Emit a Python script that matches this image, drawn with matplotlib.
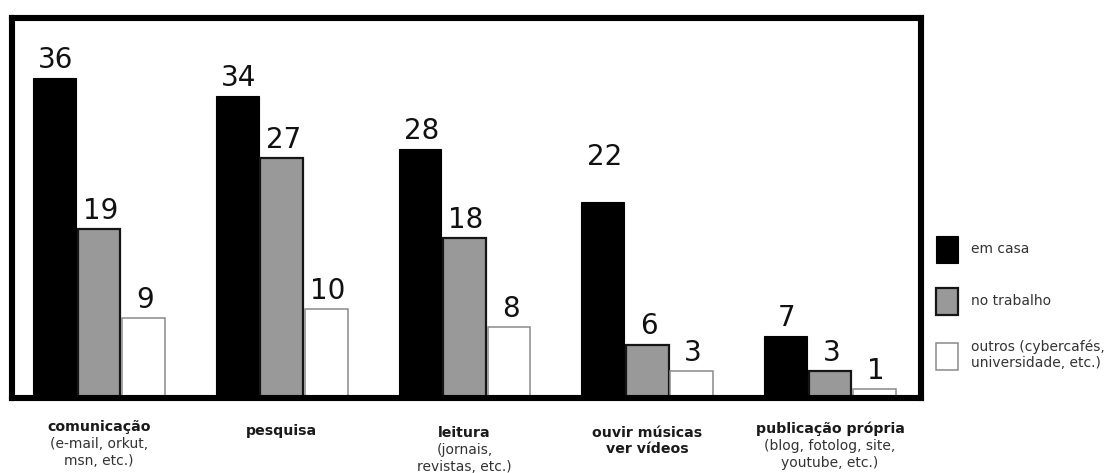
import matplotlib
matplotlib.use("Agg")
import matplotlib.pyplot as plt
import numpy as np

# Uso da internet por local de acesso (%)
categories = ["comunicação", "pesquisa", "leitura", "ouvir músicas\nver vídeos", "publicação própria"]
subtitles = ["(e-mail, orkut,\nmsn, etc.)", "", "(jornais,\nrevistas, etc.)", "", "(blog, fotolog, site,\nyoutube, etc.)"]
series_names = ["em casa", "no trabalho", "outros (cybercafés,\nuniversidade, etc.)"]
em_casa = [36, 34, 28, 22, 7]
no_trabalho = [19, 27, 18, 6, 3]
outros = [9, 10, 8, 3, 1]

series = [em_casa, no_trabalho, outros]
styles = [
    dict(facecolor="black", edgecolor="black", linewidth=0.8),
    dict(facecolor="#999999", edgecolor="#151515", linewidth=1.6),
    dict(facecolor="white", edgecolor="#8a8a8a", linewidth=1.1),
]

fig = plt.figure(figsize=(11.09, 4.73), dpi=100)
ax = fig.add_axes([0.0104, 0.1586, 0.8205, 0.8033])

x = np.arange(len(categories))
width = 0.2435
bars = []
for k, (vals, st) in enumerate(zip(series, styles)):
    b = ax.bar(x + (k - 1) * width, vals, width * 0.96, label=series_names[k],
               zorder=2, **st)
    bars.append(b)
    for rect, v in zip(b, vals):
        # the "22" label sits higher above its bar
        lift = 23 if (k == 0 and v == 22) else 3
        ax.annotate(str(v), (rect.get_x() + rect.get_width() / 2, v),
                    xytext=(1, lift), textcoords="offset points",
                    ha="center", va="bottom", fontsize=20, color="#111111")

ax.set_xlim(-0.479, 4.50)
ax.set_ylim(0, 42.75)
ax.set_xticks([])
ax.set_yticks([])
for s in ax.spines.values():
    s.set_linewidth(4.4)
    s.set_color("black")
    s.set_zorder(5)

# category captions below the frame
drops = [22, 26, 28, 28, 24]
for i, (cat, sub) in enumerate(zip(categories, subtitles)):
    ax.annotate(cat, (x[i], 0), xytext=(0, -drops[i] * 0.72), textcoords="offset points",
                ha="center", va="top", fontsize=10.2, fontweight="bold",
                color="#1a1a1a", linespacing=1.15)
    if sub:
        ax.annotate(sub, (x[i], 0), xytext=(0, -drops[i] * 0.72 - 12.5),
                    textcoords="offset points", ha="center", va="top",
                    fontsize=10, color="#333333", linespacing=1.2)

leg = ax.legend(handles=bars, labels=series_names, loc="center left",
                bbox_to_anchor=(1.0, 0.25), frameon=False, fontsize=10,
                handlelength=1.6, handleheight=2.6, labelspacing=1.8,
                handletextpad=0.9, borderaxespad=0.65)
for t in leg.get_texts():
    t.set_color("#333333")

fig.savefig("out.png", dpi=100)
